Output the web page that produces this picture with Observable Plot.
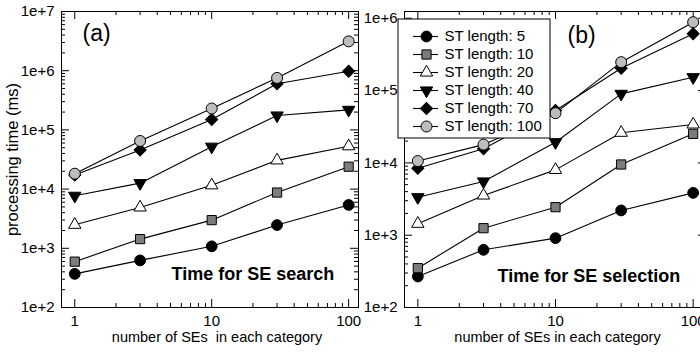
<!DOCTYPE html>
<html><head><meta charset="utf-8">
<script src="https://cdn.jsdelivr.net/npm/d3@7"></script>
<script src="https://cdn.jsdelivr.net/npm/@observablehq/plot@0.6"></script>
<style>
body{margin:0;background:#fff;}
#wrap{position:relative;width:700px;height:352px;overflow:hidden;background:#fff;}
#wrap svg{position:absolute;overflow:visible;}
</style></head><body><div id="wrap"></div>
<script>
// ---- data ----
const seCounts = [1, 3, 10, 30, 100];
const stLengths = [5, 10, 20, 40, 70, 100];
const searchTimes = [
  [370, 625, 1080, 2470, 5400],
  [595, 1430, 2990, 8750, 23900],
  [2500, 4900, 11600, 30600, 53000],
  [7700, 12600, 52000, 175000, 218000],
  [17300, 45700, 150000, 600000, 980000],
  [18200, 65000, 230000, 755000, 3130000]
];
const selectionTimes = [
  [268, 628, 910, 2200, 3850],
  [350, 1250, 2440, 9500, 25200],
  [1440, 3540, 8000, 26100, 34000],
  [3350, 5530, 19300, 90000, 153000],
  [8450, 15700, 53000, 204000, 611000],
  [10600, 17900, 48700, 247000, 883000]
];
const xTicks = [1, 10, 100];
const panelLabels = ["(a)", "(b)"];
const panelTitles = ["Time for SE search", "Time for SE selection"];
const xTitles = ["number of SEs  in each category", "number of SEs in each category"];
const yTitle = "processing time (ms)";
const legendLabels = stLengths.map(d => `ST length: ${d}`);

// ---- styles ----
const FONT = '"Liberation Sans", Arial, Helvetica, sans-serif';
const mSymbol = ["circle", "square", "triangle", "triangle", "square", "circle"];
const mRotate = [0, 0, 0, 180, 45, 0];
const mFill = ["black", "#7c7c7c", "white", "black", "black", "#bdbdbd"];
const mR = [5.4, 5.2, 4.6, 4.6, 4.8, 5.5];

const wrap = document.getElementById("wrap");

function seriesRows(times) {
  return times.flatMap((vals, i) => vals.map((v, j) => ({x: seCounts[j], y: v, st: stLengths[i]})));
}

function panel(o) {
  const H = 352, mt = 11, mb = 45;
  const pw = o.width - o.marginLeft - o.marginRight, ph = H - mt - mb;
  const rows = seriesRows(o.times);
  const yMajor = d3.range(2, 8).map(k => 10 ** k).filter(v => v <= o.yMax);
  const yMinor = d3.range(2, 7).flatMap(k => d3.range(2, 10).map(m => m * 10 ** k)).filter(v => v <= o.yMax);
  const xMinor = d3.range(0, 2).flatMap(k => d3.range(2, 10).map(m => m * 10 ** k));
  const MJ = 8, MN = 4;
  const marks = [
    Plot.frame({stroke: "black", strokeWidth: 1}),
    // inward ticks, left & right
    Plot.tickY(yMajor, {y: d => d, insetRight: pw - MJ, stroke: "black"}),
    Plot.tickY(yMinor, {y: d => d, insetRight: pw - MN, stroke: "black"}),
    Plot.tickY(yMajor, {y: d => d, insetLeft: pw - MJ, stroke: "black"}),
    Plot.tickY(yMinor, {y: d => d, insetLeft: pw - MN, stroke: "black"}),
    // inward ticks, bottom & top
    Plot.tickX(xTicks, {x: d => d, insetTop: ph - MJ, stroke: "black"}),
    Plot.tickX(xMinor, {x: d => d, insetTop: ph - MN, stroke: "black"}),
    Plot.tickX(xTicks, {x: d => d, insetBottom: ph - MJ, stroke: "black"}),
    Plot.tickX(xMinor, {x: d => d, insetBottom: ph - MN, stroke: "black"}),
    Plot.axisY({ticks: yMajor, tickFormat: d => "1e+" + Math.round(Math.log10(d)), tickSize: 0, tickPadding: o.yPad, fontSize: 15, label: null}),
    Plot.axisX({ticks: xTicks, tickFormat: d => String(d), tickSize: 0, tickPadding: 8, fontSize: 15, label: null}),
    Plot.line(rows, {x: "x", y: "y", z: "st", stroke: "black", strokeWidth: 1.1}),
    ...stLengths.map((st, i) => Plot.dot(rows.filter(r => r.st === st), {
      x: "x", y: "y", symbol: mSymbol[i], rotate: mRotate[i], r: mR[i],
      fill: mFill[i], stroke: "black", strokeWidth: 1
    })),
    Plot.text([o.label], {text: d => d, frameAnchor: "top-left", dx: o.labelDx, dy: o.labelDy, fontSize: 23, textAnchor: "start", lineAnchor: "middle"}),
    Plot.text([o.title], {text: d => d, frameAnchor: "bottom-left", dx: o.titleDx, dy: o.titleDy, fontSize: 18, fontWeight: "bold", textAnchor: "start", lineAnchor: "middle"}),
    Plot.text([o.xTitle], {text: d => d, frameAnchor: "bottom", dx: o.xTitleDx, dy: 30, fontSize: 14.5, textAnchor: "middle", lineAnchor: "middle"})
  ];
  if (o.yTitle) marks.push(Plot.text([o.yTitle], {text: d => d, frameAnchor: "left", dx: -49, rotate: -90, fontSize: 16.5, textAnchor: "middle", lineAnchor: "middle"}));
  const svg = Plot.plot({
    width: o.width, height: H, marginLeft: o.marginLeft, marginRight: o.marginRight, marginTop: mt, marginBottom: mb,
    x: {type: "log", domain: [0.8, o.xMax]},
    y: {type: "log", domain: [100, o.yMax]},
    style: {fontFamily: FONT, color: "black", background: "transparent", overflow: "visible"},
    marks
  });
  svg.style.left = o.left + "px";
  svg.style.top = "0px";
  wrap.appendChild(svg);
}

panel({times: searchTimes, left: 0, width: 362, marginLeft: 61, marginRight: 4, xMax: 118, yMax: 1e7, yPad: 7,
  label: panelLabels[0], labelDx: 21, labelDy: 22, title: panelTitles[0], titleDx: 110, titleDy: -33,
  xTitle: xTitles[0], xTitleDx: 7, yTitle: yTitle});
panel({times: selectionTimes, left: 360, width: 370, marginLeft: 44, marginRight: 24, xMax: 125, yMax: 1.24e6, yPad: 7,
  label: panelLabels[1], labelDx: 163, labelDy: 24, title: panelTitles[1], titleDx: 93, titleDy: -31,
  xTitle: xTitles[1], xTitleDx: 2, yTitle: null});

// ---- legend ----
const LW = 153, LH = 120;
const legend = Plot.plot({
  width: LW, height: LH, marginLeft: 0, marginRight: 0, marginTop: 8, marginBottom: 3,
  x: {domain: [0, LW], axis: null},
  y: {type: "point", domain: stLengths, padding: 0.5, axis: null},
  style: {fontFamily: FONT, color: "black", background: "transparent", overflow: "visible"},
  marks: [
    Plot.frame({fill: "white", stroke: "black", inset: 0.5, insetTop: -7.5, insetBottom: -2.5}),
    Plot.ruleY(stLengths, {y: d => d, x1: 16, x2: 41, stroke: "black", strokeWidth: 1.1}),
    ...stLengths.map((st, i) => Plot.dot([st], {
      x: () => 29, y: d => d, symbol: mSymbol[i], rotate: mRotate[i], r: mR[i],
      fill: mFill[i], stroke: "black", strokeWidth: 1
    })),
    Plot.text(stLengths, {x: () => 47, y: d => d, text: (d, i) => legendLabels[i], textAnchor: "start", fontSize: 15})
  ]
});
legend.style.left = "397px";
legend.style.top = "18px";
wrap.appendChild(legend);
</script></body></html>
